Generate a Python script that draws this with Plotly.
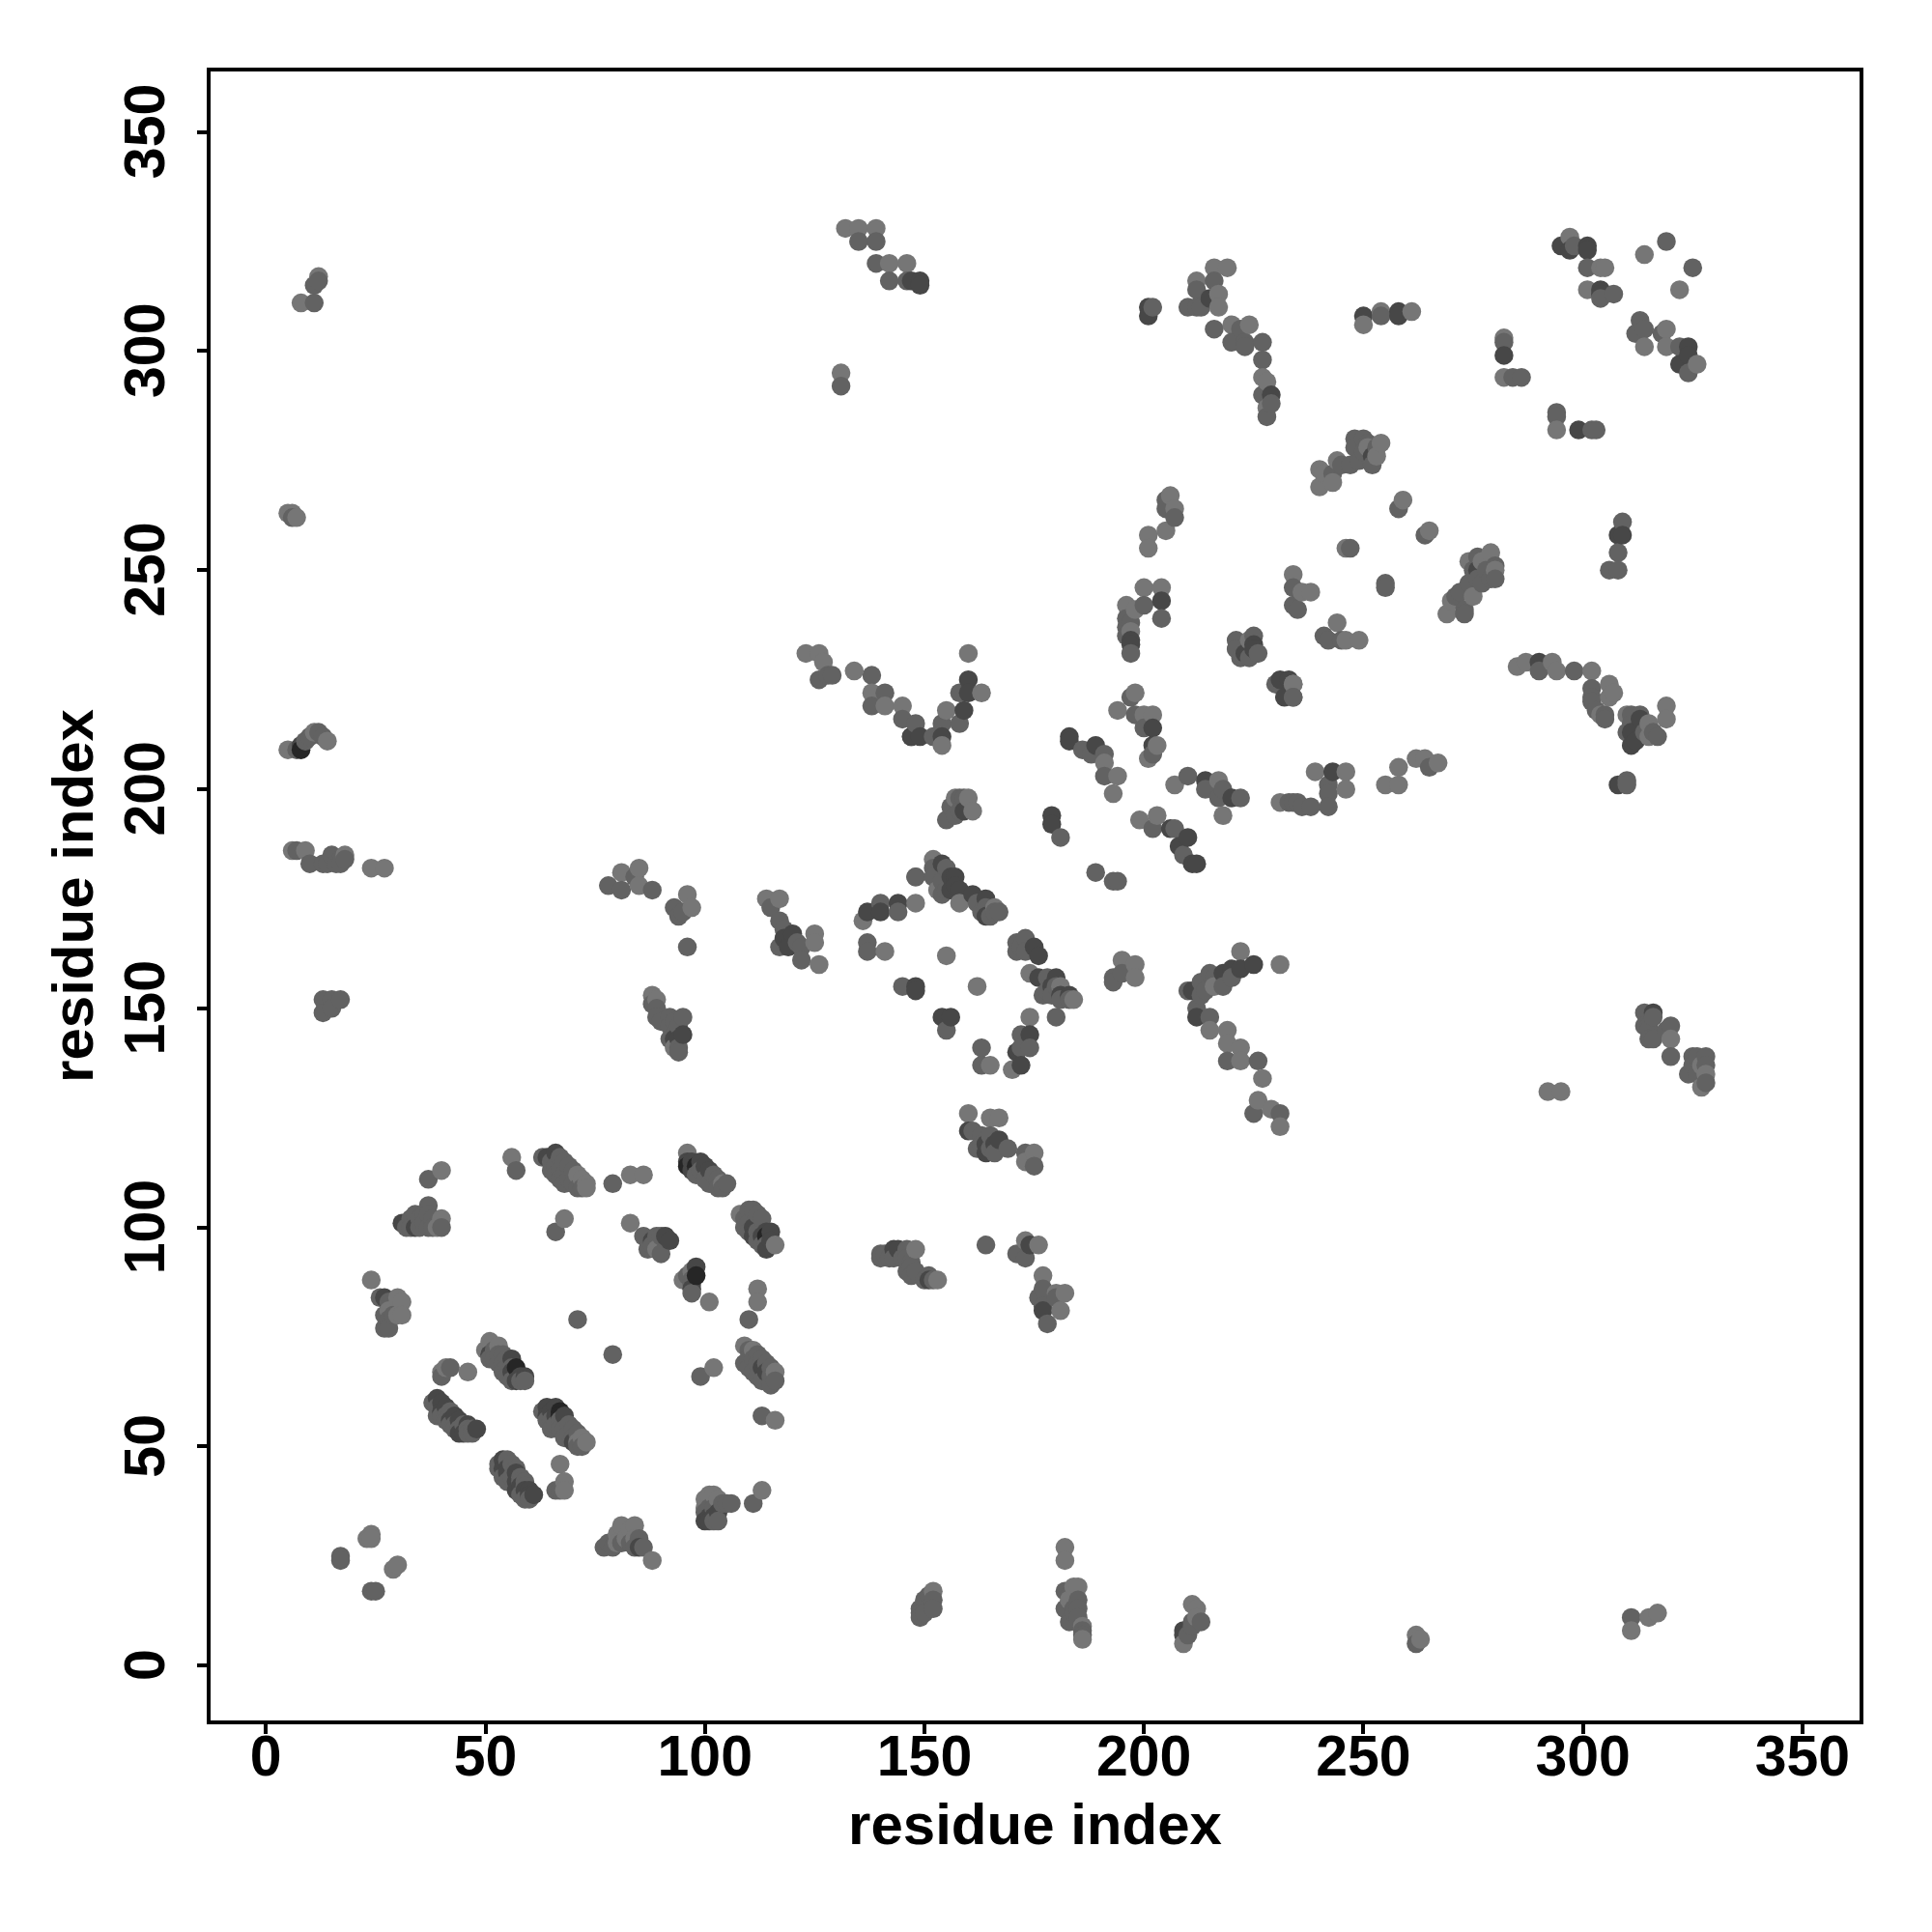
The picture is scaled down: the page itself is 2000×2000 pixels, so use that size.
import plotly.graph_objects as go

# contacts (residue i, residue j), grouped by grey shade
light_contacts = [
 (23,29),(24,29),(24,30),(29,22),(30,23),(88,24),(80,30),(81,32),(83,31),(84,32),(80,28),(100,38),(101,39),(102,39),(113,40),
 (67,46),(68,42),(68,40),(72,52),(73,51),(71,51),(40,67),(41,68),(46,67),(50,72),(51,74),(53,73),(102,68),(109,73),(111,72),(116,67),
 (116,56),(112,83),(112,86),(101,83),(95,88),(97,90),(83,101),(89,95),(68,102),(83,112),(86,112),(71,112),(72,111),(73,110),(73,109),
 (56,116),(96,117),(104,110),(116,96),(108,103),(40,113),(39,100),(40,102),(24,88),(30,84),(31,83),(30,80),(31,80),(28,81),
 (123,231),(126,231),(127,229),(134,227),(138,222),(141,219),(145,219),(154,210),(155,218),(163,222),(160,231),(160,198),(161,195),(157,198),
 (193,199),(194,218),(198,222),(200,217),(202,217),(203,210),(201,207),(191,206),(194,203),(234,224),(207,201),(217,202),(218,194),
 (199,193),(203,194),(231,197),(246,204),(246,200),(239,204),(255,201),(258,205),(258,201),(262,207),(264,207),(267,206),
 (114,175),(117,175),(125,167),(126,160),(125,165),(141,163),(136,170),(148,174),(148,180),(152,184),(153,177),(158,174),(166,173),(155,162),(162,155),
 (174,148),(170,136),(165,137),(174,158),(184,152),(195,161),(198,160),(198,157),(222,163),(231,160),(215,145),(219,145),(219,142),(222,141),(222,138),(227,134),(229,127),(231,123),(226,129),
 (160,126),(165,125),(167,125),(175,117),(173,115),(173,97),(176,96),(148,95),(153,88),(177,89),(182,85),(180,85),(181,81),
 (216,319),(219,319),(212,316),(217,313),(217,310),(220,306),(224,306),(227,294),(228,293),(228,287),(254,309),(261,309),(250,306),
 (282,303),(282,294),(294,282),(297,326),(304,319),(305,319),(301,314),(314,322),(322,314),(314,301),(319,305),(319,301),(326,297),
 (240,273),(243,270),(244,275),(240,269),(254,279),(253,276),(259,266),(265,259),(246,255),(274,252),(279,254),(280,250),(275,244),(270,243),(269,240),
 (206,267),(207,264),(205,259),(201,258),(201,255),(200,246),(204,246),(196,242),(197,236),(234,249),(238,245),(236,245),(244,238),(246,234),(249,234),
 (224,234),(234,224),(285,228),(287,229),(293,229),(294,227),(306,224),(306,221),(302,227),(310,217),(319,219),(319,216),(315,215),(315,212),
 (8,311),(12,317),(5,263),(6,263),(7,262),(5,209),(11,213),(14,211),(6,186),(9,186),(18,185),(24,182),(27,182),
 (88,153),(93,141),(85,182),(81,181),(85,178),(96,176),(97,173),(320,143),(328,135),(327,132),(295,131),(292,131),
 (152,17),(182,27),(182,24),(185,18),(186,9),(186,6),(209,5),(211,14),(212,11),(262,7),(263,6),(311,8),(315,11),(317,12),
 (131,295),(132,328),(135,328),(139,328),(142,320),(146,320),
 (82,29),(84,29),(103,38),(100,36),(181,155),(216,155),(304,217),(307,222),(277,252),(241,272),(251,278),(198,241),(89,152),(327,137),(184,18),(183,15),(212,13),
]
mid_contacts = [
 (17,24),(17,25),(24,17),(25,17),(77,27),(78,28),(81,28),(85,29),(100,35),(102,36),(104,37),(105,37),(102,33),(111,37),(67,40),(66,40),
 (53,46),(55,47),(56,46),(57,45),(56,43),(58,43),(59,42),(38,60),(39,59),(41,57),(42,58),(43,55),(45,55),(44,54),(47,54),(46,54),
 (63,58),(65,56),(66,55),(67,56),(68,54),(69,55),(69,53),(70,54),(70,52),(71,53),(51,71),(52,72),(52,70),(53,71),(54,71),(54,69),(55,70),(55,68),(56,68),(58,65),(59,65),
 (40,66),(42,68),(71,79),(79,71),(99,66),(110,72),(110,70),(111,70),(112,71),(112,69),(113,70),(114,69),(115,68),(115,66),(116,65),(115,64),(113,57),(110,79),
 (96,89),(97,87),(97,85),(97,88),(86,98),(87,95),(88,96),(89,98),(90,94),(90,98),(66,99),(79,110),(57,113),(63,116),(65,115),(66,114),(67,116),(67,113),(68,115),(68,112),(69,114),(69,111),(70,113),(70,110),(71,109),(72,109),
 (98,112),(99,113),(100,111),(101,110),(102,112),(103,111),(103,109),(104,109),(105,110),(109,102),(110,104),(110,101),(111,104),(112,103),(112,99),(113,102),(114,96),
 (37,111),(33,102),(33,100),(34,103),(35,102),(36,101),(36,103),(37,105),(37,103),(38,100),(38,102),(26,84),(28,79),(28,83),(27,80),(29,80),(27,77),(28,77),
 (128,226),(129,226),(126,225),(138,226),(138,219),(141,222),(145,216),(148,215),(147,212),(152,212),(154,215),(158,215),(158,222),(155,193),(157,194),(156,196),(158,198),(159,198),(158,195),(181,189),
 (186,209),(188,208),(191,208),(191,203),(197,221),(198,217),(200,214),(202,208),(234,221),(210,203),(214,200),(217,198),(218,200),(222,198),(202,191),(207,191),(209,185),(189,181),(193,179),(194,179),
 (233,197),(234,197),(235,197),(236,196),(238,196),(242,196),(242,199),(242,201),(265,205),
 (115,173),(117,170),(118,168),(117,164),(121,165),(122,161),(122,164),(137,165),(137,163),(140,174),(144,172),(148,180),(152,182),(152,180),(154,179),(155,182),(163,172),(162,174),(165,171),
 (145,155),(155,145),(180,148),(172,144),(172,141),(174,141),(163,141),(163,137),(171,165),(173,166),(171,163),(178,157),(177,153),(180,155),(181,152),(195,158),(193,157),(193,156),
 (215,158),(218,155),(214,154),(210,154),(212,150),(215,148),(219,138),(226,138),(225,126),(231,126),(163,121),(166,117),(169,118),(173,117),(175,114),(164,96),(171,94),(173,93),
 (140,94),(143,93),(147,92),(147,89),(151,89),(146,93),(177,86),(176,84),(177,82),(178,78),(180,84),
 (210,310),(212,314),(216,316),(213,310),(212,310),(216,305),(220,302),(223,302),(223,301),(222,305),(227,302),(227,298),(227,290),(228,285),(229,288),(254,308),(202,310),
 (282,302),(286,294),(284,294),(294,286),(294,285),(302,282),(303,282),(298,324),(301,319),(304,312),(307,313),(319,325),(325,319),(313,307),(312,304),(314,305),(318,304),(322,301),(324,295),
 (247,274),(250,280),(248,280),(252,274),(251,279),(250,277),(258,264),(264,258),(247,255),(255,247),(255,246),(276,253),(280,248),(280,251),(277,247),(274,247),(273,241),(273,240),
 (205,266),(205,264),(207,262),(204,239),(200,242),(196,239),(196,237),(197,231),(234,246),(234,242),(235,241),(241,235),(242,234),(245,234),(221,234),(221,232),(224,230),(230,224),(234,221),
 (290,227),(298,227),(302,223),(302,220),(305,217),(305,216),(313,217),(310,213),(314,213),(309,261),(306,250),(308,254),(308,250),(310,202),(310,201),
 (12,316),(11,315),(11,311),(6,262),(7,209),(10,212),(7,186),(10,183),(13,183),(15,185),(17,183),(14,183),(18,184),(13,149),(13,152),(15,150),(17,152),(15,152),
 (88,151),(89,148),(92,148),(95,148),(93,144),(92,146),(94,140),(96,164),(78,178),(84,180),(81,177),(88,177),(93,173),(94,171),(95,172),
 (314,149),(315,146),(316,143),(320,146),(320,139),(325,139),(328,139),(324,135),(315,145),
 (149,12),(152,13),(150,15),(149,11),(182,17),(182,13),(185,15),(183,10),(186,8),(211,9),(211,10),(262,5),(311,11),(131,292),(135,325),(139,325),(139,320),(142,316),(146,316),
 (9,211),(12,213),(13,212),(140,93),(141,94),(142,93),(145,93),(146,95),(147,91),(148,90),(146,90),(150,88),(152,88),
 (161,122),(163,119),(165,118),(162,118),(165,121),(314,146),(315,143),(316,148),(319,145),(325,137),(326,139),(328,137),(326,135),(328,133),
 (94,146),(93,147),(92,143),(94,141),(90,147),(89,150),(184,13),(185,13),(185,11),(184,12),(183,16),(186,7),(210,7),(213,10),(150,12),(151,16),(152,15),(149,13),(17,184),(16,183),
 (101,36),(103,33),(106,37),(83,28),(79,27),(84,27),(86,27),(39,57),(41,56),(43,54),(46,53),(47,53),(40,57),(42,55),
 (54,43),(55,42),(58,39),(59,38),(60,38),(53,45),(58,42),(59,41),(64,56),(65,54),(67,54),(68,52),(71,50),(72,50),
 (51,70),(53,69),(54,67),(55,66),(56,65),(65,113),(66,112),(67,111),(68,110),(109,100),(110,99),(112,97),(113,96),
 (109,69),(110,68),(111,67),(112,66),(113,65),(37,100),(35,100),(32,100),(40,100),(154,176),(155,177),(166,172),(167,172),(164,173),
 (173,163),(172,164),(178,154),(179,153),(183,152),(213,156),(216,157),(220,157),(213,153),(302,221),(303,218),(311,215),(316,213),(317,212),(311,217),
 (275,250),(278,250),(279,248),(276,248),(272,245),(271,244),(243,272),(245,274),(248,278),(249,275),(253,278),(197,238),(196,235),(222,230),(226,231),(225,235),
]
dark_contacts = [
 (85,27),(100,33),(101,34),(103,35),(54,47),(54,45),(55,44),(57,42),(58,41),(59,40),(60,39),(60,40),(61,39),(39,61),(40,60),(40,58),(41,59),(42,56),(43,57),(44,56),(45,53),(46,55),(48,54),
 (64,59),(64,57),(65,58),(66,59),(66,57),(68,57),(51,71),(56,70),(56,67),(58,66),(59,66),(57,65),(113,68),(114,67),(97,86),(98,91),(88,97),(91,98),(92,97),(64,116),(66,117),
 (97,115),(97,113),(99,115),(100,114),(101,113),(96,115),(111,100),(113,98),(114,99),(115,99),(115,97),(31,101),(32,101),(34,100),(27,84),(147,212),(149,212),(154,212),(159,218),(160,222),(160,225),
 (159,195),(179,194),(179,192),(183,212),(183,211),(189,210),(202,214),(202,210),(231,225),(233,225),(232,221),(214,202),(220,198),(206,191),(210,189),(208,187),(211,183),(212,183),(243,204),
 (120,167),(118,166),(119,164),(137,172),(140,172),(144,174),(154,183),(156,180),(157,180),(156,177),(161,176),(164,175),(164,171),(148,155),(148,154),(154,148),(156,148),(174,144),(171,140),(172,137),
 (175,164),(176,162),(176,157),(180,157),(181,153),(183,153),(225,160),(222,159),(218,158),(211,154),(212,148),(160,122),(167,120),(164,117),(174,96),(144,95),(151,88),(177,81),
 (201,310),(201,308),(215,312),(229,290),(250,308),(258,309),(258,308),(282,299),(295,324),(297,323),(301,324),(301,323),(304,314),(304,313),(324,301),(324,299),(322,297),
 (276,250),(204,243),(197,233),(225,233),(225,232),(290,229),(311,213),(313,216),(308,201),(308,258),(309,258),(299,282),
 (8,210),(95,144),(316,149),(209,8),(149,316),(149,315),(147,316),(164,119),(166,119),(94,143),(93,143),(209,7),(143,95),(157,178),(158,177),
 (57,40),(55,45),(57,44),(70,51),(44,53),(114,95),(111,98),(179,155),(220,159),(311,210),(312,211),(252,276),(197,234),(223,231),(102,34),(101,33),
]
darkest_contacts = [
 (57,68),(67,58),(96,114),(98,114),(98,89),(8,209),(67,57),(114,98),
]

shades = {"#767676": light_contacts, "#626262": mid_contacts, "#474747": dark_contacts, "#262626": darkest_contacts}
tick_values = [0, 50, 100, 150, 200, 250, 300, 350]
axis_label = "residue index"

rows = sorted(((p[0], p[1], c) for c, pts in shades.items() for p in pts), key=lambda r: (r[0], -r[1]))
fig = go.Figure(go.Scatter(
    x=[r[0] for r in rows], y=[r[1] for r in rows], mode="markers",
    marker=dict(size=19.5, color=[r[2] for r in rows], line=dict(width=0)),
    hoverinfo="skip"))

tfont = dict(family="Liberation Sans", size=59, color="black", weight="bold")
lfont = dict(family="Liberation Sans", size=60, color="black", weight="bold")
common = dict(tickmode="array", tickvals=tick_values,
              ticks="outside", ticklen=10, tickwidth=4, tickcolor="black",
              showline=True, linewidth=4, linecolor="black", mirror=True,
              showgrid=False, zeroline=False, tickfont=tfont)
fig.update_xaxes(range=[-12.6, 363.0], ticktext=[str(t) for t in tick_values], ticklabelstandoff=-28,
                 title=dict(text=axis_label, font=lfont, standoff=18), **common)
fig.update_yaxes(range=[-12.5, 363.8], ticktext=[str(t) + "\u00a0" for t in tick_values], ticklabelstandoff=10, tickangle=-90,
                 title=dict(text=axis_label, font=lfont, standoff=2), **common)
fig.update_layout(width=2000, height=2000, autosize=False, showlegend=False,
                  paper_bgcolor="white", plot_bgcolor="white",
                  margin=dict(l=210, r=83, t=66, b=227))
fig.write_html("out.html")
